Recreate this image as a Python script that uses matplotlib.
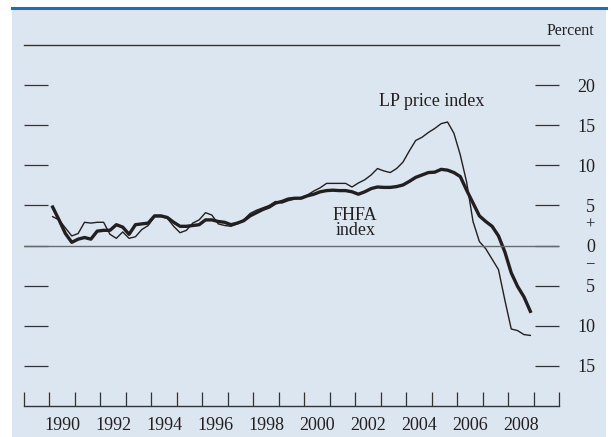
import numpy as np
import matplotlib
matplotlib.use("Agg")
import matplotlib.pyplot as plt
from matplotlib.patches import Rectangle
from matplotlib.lines import Line2D

plt.rcParams['font.family'] = ['Liberation Serif', 'DejaVu Serif']

# quarterly, 1990:Q1 - 2008:Q4, four-quarter percent change
start_year = 1990
fhfa = [4.8, 3.2, 1.5, 0.4, 0.8, 1.0, 0.8, 1.8,
        1.9, 1.9, 2.6, 2.3, 1.4, 2.6, 2.7, 2.8,
        3.7, 3.7, 3.5, 2.9, 2.4, 2.4, 2.5, 2.6,
        3.2, 3.2, 3.0, 2.9, 2.6, 2.8, 3.1, 3.7,
        4.1, 4.5, 4.8, 5.3, 5.5, 5.8, 5.9, 5.9,
        6.2, 6.4, 6.7, 6.85, 6.9, 6.85, 6.85, 6.7,
        6.4, 6.7, 7.1, 7.3, 7.25, 7.25, 7.35, 7.55,
        8.0, 8.5, 8.8, 9.1, 9.15, 9.5, 9.4, 9.1,
        8.6, 6.9, 5.3, 3.7, 3.0, 2.4, 1.2, -0.8,
        -3.4, -5.1, -6.4, -8.2]
lp = [3.6, 3.2, 2.2, 1.2, 1.5, 2.9, 2.8, 2.9,
      2.9, 1.4, 0.9, 1.7, 0.9, 1.1, 2.0, 2.5,
      3.6, 3.6, 3.4, 2.4, 1.6, 1.9, 2.8, 3.2,
      4.1, 3.8, 2.7, 2.5, 2.4, 2.7, 3.2, 4.0,
      4.4, 4.7, 5.0, 5.5, 5.3, 5.6, 5.8, 6.0,
      6.3, 6.8, 7.2, 7.75, 7.75, 7.75, 7.75, 7.3,
      7.8, 8.2, 8.8, 9.6, 9.3, 9.1, 9.6, 10.4,
      11.8, 13.1, 13.5, 14.1, 14.6, 15.2, 15.4, 14.0,
      11.3, 7.9, 3.0, 0.5, -0.4, -1.7, -3.0, -6.8,
      -10.4, -10.6, -11.1, -11.2]
dates = start_year + 0.125 + 0.25 * np.arange(len(fhfa))

year_edges = list(range(1989, 2011))
year_labels = [str(y) for y in range(1990, 2009, 2)]
y_ticks = [20, 15, 10, 5, 0, -5, -10, -15]
y_labels = ['20', '15', '10', '5', '0', '5', '10', '15']

W, H = 611, 437
fig = plt.figure(figsize=(W / 100, H / 100), dpi=100)
fig.patch.set_facecolor('white')
bg = '#dce6f0'
fig.patches.append(Rectangle((12 / W, 0), 594 / W, 1 - 9 / H, transform=fig.transFigure,
                             facecolor=bg, edgecolor='none', zorder=-5))
fig.lines.append(Line2D([12 / W, 606 / W], [1 - 8 / H, 1 - 8 / H], transform=fig.transFigure,
                        color='#1f6fad', linewidth=2.2, zorder=-4))

ax = fig.add_axes([24 / W, 1 - 406 / H, 535 / W, 361 / H])
ax.set_facecolor('none')
ax.patch.set_alpha(0)
ink = '#231f20'

ax.plot(dates, lp, color=ink, linewidth=1.0)
ax.plot(dates, fhfa, color=ink, linewidth=2.4)
ax.axhline(0, color='#6a6a6a', linewidth=1.0)

ax.set_xlim(1989, 2010)
ax.set_ylim(-20, 25)

for s in ['left', 'right']:
    ax.spines[s].set_visible(False)
ax.spines['top'].set_color('#333333')
ax.spines['bottom'].set_color('#333333')
ax.spines['top'].set_linewidth(1.0)
ax.spines['bottom'].set_linewidth(1.0)

ax.set_xticks(year_edges)
ax.set_xticklabels([])
ax.set_xticks([int(l) + 0.5 for l in year_labels], year_labels, minor=True)
ax.tick_params(axis='x', which='major', direction='in', length=10, width=0.9, color='#333333')
ax.tick_params(axis='x', which='minor', length=0, pad=8, labelsize=13, labelcolor=ink)

ax.set_yticks(y_ticks, y_labels)
ax.tick_params(axis='y', which='major', direction='in', length=17, width=0.9, color='#333333',
               left=True, right=True, labelleft=False, labelright=True, pad=26,
               labelsize=13, labelcolor=ink)
for t in ax.yaxis.get_major_ticks():
    t.label2.set_horizontalalignment('right')

ax.text(1.066, 2.6, '+', transform=ax.get_yaxis_transform(), ha='right', va='center',
        fontsize=12, color=ink)
ax.text(1.066, -2.3, '\u2212', transform=ax.get_yaxis_transform(), ha='right', va='center',
        fontsize=12, color=ink)

ax.text(2005.0, 17.9, 'LP price index', ha='center', va='center', fontsize=13, color=ink)
ax.text(2002.0, 2.8, 'FHFA\nindex', ha='center', va='center', fontsize=13, color=ink,
        linespacing=0.9)

fig.text(594 / W, 1 - 31 / H, 'Percent', ha='right', va='center', fontsize=11.5, color=ink)

fig.savefig('out.png', dpi=100)
